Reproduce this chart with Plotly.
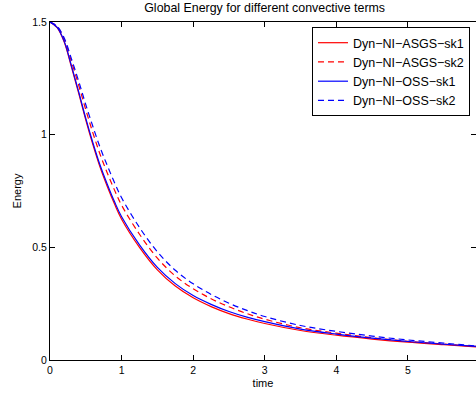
import plotly.graph_objects as go

time = [0, 0.1, 0.2, 0.3, 0.4, 0.5, 0.6, 0.7, 0.8, 0.9, 1.0, 1.25, 1.5, 1.75,
        2.0, 2.25, 2.5, 2.75, 3.0, 3.5, 4.0, 4.5, 5.0, 5.5, 6.0]

asgs_sk1 = [1.5, 1.475, 1.41, 1.30, 1.185, 1.065, 0.955, 0.855, 0.77, 0.693, 0.625, 0.50,
            0.40, 0.328, 0.276, 0.237, 0.206, 0.182, 0.162, 0.131, 0.11, 0.093, 0.079, 0.068, 0.057]
asgs_sk2 = [1.5, 1.479, 1.422, 1.324, 1.22, 1.11, 1.007, 0.912, 0.83, 0.755, 0.687, 0.558,
            0.452, 0.373, 0.316, 0.272, 0.236, 0.206, 0.181, 0.143, 0.119, 0.099, 0.083, 0.071, 0.059]
oss_sk1 = [1.5, 1.476, 1.413, 1.305, 1.191, 1.072, 0.963, 0.864, 0.78, 0.703, 0.636, 0.511,
           0.411, 0.339, 0.286, 0.247, 0.215, 0.19, 0.17, 0.137, 0.115, 0.097, 0.082, 0.07, 0.059]
oss_sk2 = [1.5, 1.481, 1.428, 1.336, 1.238, 1.133, 1.035, 0.943, 0.863, 0.788, 0.72, 0.588,
           0.48, 0.398, 0.338, 0.291, 0.252, 0.22, 0.193, 0.153, 0.127, 0.106, 0.089, 0.075, 0.061]

series = [
    ("Dyn\u2212NI\u2212ASGS\u2212sk1", asgs_sk1, "#ff0000", "solid"),
    ("Dyn\u2212NI\u2212ASGS\u2212sk2", asgs_sk2, "#ff0000", "6px,4px"),
    ("Dyn\u2212NI\u2212OSS\u2212sk1", oss_sk1, "#0000ff", "solid"),
    ("Dyn\u2212NI\u2212OSS\u2212sk2", oss_sk2, "#0000ff", "6px,4px"),
]

font = "Liberation Sans, Arial, Helvetica, sans-serif"

fig = go.Figure()
for name, vals, col, dash in series:
    fig.add_trace(go.Scatter(x=time, y=vals, mode="lines", name=name,
                             line=dict(color=col, width=1.2, dash=dash, shape="spline")))

axis_common = dict(showgrid=False, zeroline=False, showline=True, linecolor="black",
                   linewidth=1.2, mirror="ticks", ticks="inside", ticklen=5,
                   tickcolor="black", tickfont=dict(family=font, size=10.5, color="black"))

fig.update_layout(
    width=476, height=396,
    margin=dict(l=50, r=0, t=22, b=36),
    paper_bgcolor="white", plot_bgcolor="white",
    font=dict(family=font, size=11, color="black"),
    title=dict(text="Global Energy for different convective terms", x=0.556, xanchor="center",
               y=1 - 8 / 396, yanchor="middle", font=dict(family=font, size=12.4, color="black")),
    xaxis=dict(range=[0, 5.95], tickvals=[0, 1, 2, 3, 4, 5, 6],
               title=dict(text="time", standoff=4, font=dict(family=font, size=11)),
               **axis_common),
    yaxis=dict(range=[0, 1.5], tickvals=[0, 0.5, 1, 1.5], ticktext=["0", "0.5", "1", "1.5"],
               title=dict(text="Energy", standoff=8, font=dict(family=font, size=11)),
               **axis_common),
    legend=dict(x=0.615, y=0.985, xanchor="left", yanchor="top", bgcolor="white",
                bordercolor="black", borderwidth=1, font=dict(family=font, size=12.5),
                tracegroupgap=0),
    showlegend=True,
)

fig.write_html("out.html")
